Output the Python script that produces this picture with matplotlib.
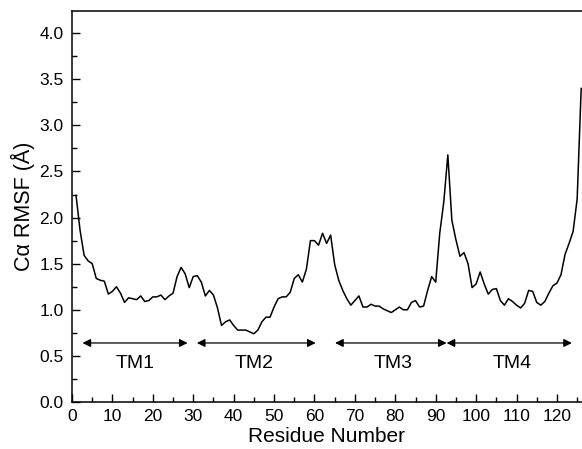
import matplotlib
matplotlib.use("Agg")
import matplotlib.pyplot as plt
from matplotlib.ticker import MultipleLocator

plt.rcParams['font.family'] = ['Liberation Sans', 'DejaVu Sans']

residues = list(range(1, 127))
rmsf = [2.24, 1.86, 1.59, 1.53, 1.50, 1.34, 1.32, 1.31, 1.17, 1.20,
        1.25, 1.18, 1.08, 1.13, 1.12, 1.11, 1.15, 1.09, 1.10, 1.14,
        1.14, 1.16, 1.11, 1.15, 1.18, 1.36, 1.46, 1.39, 1.24, 1.36,
        1.37, 1.30, 1.15, 1.21, 1.16, 1.02, 0.83, 0.87, 0.89, 0.83,
        0.78, 0.78, 0.78, 0.76, 0.74, 0.78, 0.87, 0.92, 0.92, 1.03,
        1.12, 1.14, 1.14, 1.19, 1.34, 1.38, 1.30, 1.44, 1.75, 1.75,
        1.70, 1.83, 1.72, 1.81, 1.49, 1.32, 1.21, 1.12, 1.05, 1.10,
        1.15, 1.03, 1.03, 1.06, 1.04, 1.04, 1.01, 0.99, 0.97, 1.00,
        1.03, 1.00, 1.00, 1.08, 1.10, 1.03, 1.04, 1.21, 1.36, 1.30,
        1.83, 2.17, 2.68, 1.97, 1.76, 1.58, 1.62, 1.50, 1.24, 1.28,
        1.41, 1.28, 1.17, 1.22, 1.23, 1.10, 1.05, 1.12, 1.09, 1.05,
        1.02, 1.07, 1.21, 1.20, 1.08, 1.05, 1.09, 1.18, 1.26, 1.29,
        1.38, 1.60, 1.72, 1.85, 2.20, 3.40]

tm_labels = ["TM1", "TM2", "TM3", "TM4"]
tm_starts = [2.6, 30.9, 65.1, 92.7]
tm_ends = [28.6, 60.3, 92.7, 123.7]
tm_label_x = [15.6, 45.0, 79.5, 109.0]
arrow_y = 0.64
label_y = 0.42

yticks = [0, 0.5, 1.0, 1.5, 2.0, 2.5, 3.0, 3.5, 4.0]

fig = plt.figure(figsize=(5.82, 4.49), dpi=100)
ax = fig.add_axes([72/582, 1 - 402/449, 1 - 72/582, (402 - 11)/449])

ax.plot(residues, rmsf, color='black', lw=1.1)

for s, e, lab, lx in zip(tm_starts, tm_ends, tm_labels, tm_label_x):
    ax.annotate('', xy=(e, arrow_y), xytext=(s, arrow_y),
                arrowprops=dict(arrowstyle='<|-|>', color='black', lw=0.9,
                                mutation_scale=12, shrinkA=0, shrinkB=0))
    ax.text(lx, label_y, lab, ha='center', va='center', fontsize=14)

ax.set_xlim(0, 126.2)
ax.set_ylim(0, 4.24)
ax.xaxis.set_major_locator(MultipleLocator(10))
ax.xaxis.set_minor_locator(MultipleLocator(5))
ax.yaxis.set_minor_locator(MultipleLocator(0.25))
ax.set_yticks(yticks)
ax.set_yticklabels([f"{v:.1f}" for v in yticks])
ax.tick_params(which='major', direction='in', length=6, width=1, labelsize=12.5)
ax.tick_params(which='minor', direction='in', length=3.5, width=1)
ax.tick_params(axis='x', pad=5)
ax.tick_params(axis='y', pad=6)
ax.spines['right'].set_visible(False)
for sp in ['left', 'bottom', 'top']:
    ax.spines[sp].set_linewidth(1.1)

ax.set_xlabel('Residue Number', fontsize=15, labelpad=2)
ax.set_ylabel('Cα RMSF (Å)', fontsize=15.5, labelpad=3)

fig.savefig('out.png', dpi=100)
